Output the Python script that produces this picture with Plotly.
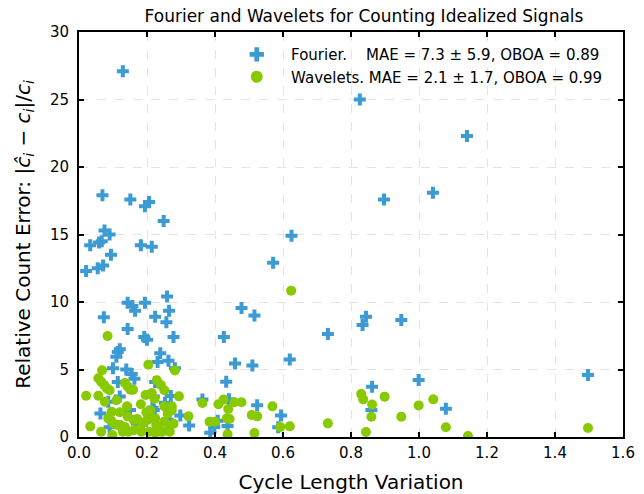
import plotly.graph_objects as go

# Cycle length variation (x) and relative count error (y) per signal
fourier_x = [0.129, 0.826, 1.141, 1.041, 0.897, 0.069, 0.151, 0.194, 0.206, 0.249,
             0.075, 0.090, 0.033, 0.059, 0.067, 0.182, 0.214, 0.094, 0.021, 0.055,
             0.071, 0.625, 0.571, 0.143, 0.157, 0.165, 0.194, 0.259, 0.073, 0.224,
             0.265, 0.257, 0.478, 0.516, 0.143, 0.192, 0.200, 0.278, 0.426, 0.120,
             0.114, 0.110, 0.239, 0.620, 0.231, 0.263, 0.459, 0.510, 0.100, 0.139,
             0.282, 0.155, 0.163, 0.114, 0.224, 0.433, 0.220, 0.270, 0.253, 0.441,
             0.524, 0.220, 0.063, 0.298, 0.594, 0.196, 0.324, 0.408, 0.437, 0.386,
             0.090, 0.586, 0.834, 0.844, 0.948, 0.732, 0.999, 0.862, 1.079, 1.497,
             0.860, 0.363, 0.398, 0.216, 0.212, 0.086, 0.198, 0.150, 0.170, 0.240,
             0.120, 0.260]
fourier_y = [27.1, 25.0, 22.3, 18.1, 17.6, 17.9, 17.6, 17.1, 17.4, 16.0,
             15.3, 15.0, 14.2, 14.4, 14.5, 14.2, 14.1, 13.5, 12.3, 12.5,
             12.7, 14.9, 12.9, 9.95, 9.7, 9.36, 9.95, 10.4, 8.87, 8.9,
             9.36, 8.5, 9.55, 9.0, 8.0, 7.4, 7.2, 7.4, 7.4, 6.5,
             6.3, 5.95, 6.2, 5.75, 5.55, 5.65, 5.45, 5.3, 5.1, 5.0,
             5.1, 4.67, 4.32, 4.07, 4.07, 4.1, 3.0, 3.04, 2.54, 2.79,
             2.35, 2.0, 1.75, 1.6, 1.6, 1.2, 0.86, 1.2, 0.81, 0.32,
             0.72, 0.72, 8.3, 8.9, 8.67, 7.63, 4.22, 3.73, 2.1, 4.6,
             2.0, 2.77, 0.74, 2.17, 1.87, 2.62, 1.23, 2.0, 1.0, 0.5,
             3.0, 1.3]

wavelet_x = [0.084, 0.624, 0.204, 0.068, 0.282, 0.057, 0.065, 0.074, 0.082, 0.090,
             0.021, 0.057, 0.076, 0.110, 0.135, 0.143, 0.151, 0.159, 0.229, 0.241,
             0.251, 0.196, 0.214, 0.222, 0.141, 0.182, 0.294, 0.251, 0.273, 0.198,
             0.210, 0.096, 0.120, 0.261, 0.273, 0.322, 0.086, 0.094, 0.102, 0.114,
             0.143, 0.161, 0.171, 0.202, 0.224, 0.251, 0.265, 0.278, 0.033, 0.065,
             0.098, 0.129, 0.145, 0.161, 0.184, 0.206, 0.224, 0.245, 0.267, 0.121,
             0.135, 0.180, 0.227, 0.235, 0.190, 0.363, 0.410, 0.425, 0.439, 0.457,
             0.478, 0.435, 0.443, 0.384, 0.400, 0.508, 0.524, 0.569, 0.592, 0.620,
             0.437, 0.516, 0.830, 0.836, 0.899, 0.862, 0.860, 0.948, 0.999, 1.042,
             0.732, 0.844, 1.079, 1.144, 1.497]
wavelet_y = [7.48, 10.84, 5.36, 4.95, 4.93, 4.35, 4.1, 3.85, 3.6, 3.46,
             3.06, 3.06, 2.62, 2.72, 4.0, 3.75, 3.5, 3.5, 4.2, 3.85,
             3.46, 3.11, 3.26, 2.81, 2.27, 2.42, 3.01, 2.27, 2.27, 1.83,
             1.98, 1.87, 1.83, 1.73, 1.98, 1.53, 1.38, 1.23, 0.99, 0.89,
             1.53, 1.28, 1.33, 1.28, 1.38, 1.13, 0.74, 0.99, 0.79, 0.39,
             0.15, 0.39, 0.39, 0.5, 0.39, 0.39, 0.3, 0.39, 0.39, 0.89,
             0.74, 0.64, 0.89, 0.59, 1.08, 2.52, 2.42, 2.77, 2.07, 2.57,
             2.57, 1.38, 1.33, 1.13, 1.13, 1.63, 1.53, 2.27, 0.74, 0.79,
             0.2, 0.3, 3.19, 2.79, 2.99, 2.4, 1.5, 1.5, 2.34, 2.79,
             1.01, 0.37, 0.72, 0.07, 0.67]

NB = "\u00a0"
fourier_label = NB * 3 + "Fourier." + NB * 4 + "MAE = 7.3 ± 5.9, OBOA = 0.89"
wavelet_label = NB * 3 + "Wavelets." + NB + "MAE = 2.1 ± 1.7, OBOA = 0.99"

x_ticks = [0.0, 0.2, 0.4, 0.6, 0.8, 1.0, 1.2, 1.4, 1.6]
y_ticks = [0, 5, 10, 15, 20, 25, 30]

BLUE = "rgb(60,154,212)"
GREEN = "rgb(136,201,0)"
FONT = "DejaVu Sans"

fig = go.Figure()
fig.add_trace(go.Scatter(
    x=fourier_x, y=fourier_y, mode="markers", name=fourier_label,
    marker=dict(symbol="cross", size=10, color=BLUE, line=dict(width=0)),
))
fig.add_trace(go.Scatter(
    x=wavelet_x, y=wavelet_y, mode="markers", name=wavelet_label,
    marker=dict(symbol="circle", size=10, color=GREEN, line=dict(width=0)),
))

axis_common = dict(
    showline=True, linewidth=2, linecolor="black", mirror="ticks",
    ticks="inside", ticklen=5, tickwidth=2, tickcolor="black",
    showgrid=True, gridcolor="#e3e3e3", griddash="dash", gridwidth=1,
    zeroline=False, automargin=False,
    tickfont=dict(family=FONT, size=15, color="black"),
)

fig.update_xaxes(
    range=[0, 1.6], tickvals=x_ticks, ticktext=[f"{v:.1f}" for v in x_ticks],
    ticklabelstandoff=1,
    title=dict(text="Cycle Length Variation", font=dict(family=FONT, size=20, color="black"),
               standoff=22),
    **axis_common,
)
fig.update_yaxes(
    range=[0, 30], tickvals=y_ticks, ticktext=[str(v) for v in y_ticks],
    ticklabelstandoff=5,
    title=dict(
        text="Relative Count Error: |<i>ĉ</i><sub><i>i</i></sub> − <i>c</i><sub><i>i</i></sub>|/<i>c</i><sub><i>i</i></sub>",
        font=dict(family=FONT, size=20, color="black"), standoff=14),
    **axis_common,
)

fig.update_layout(
    width=644, height=494,
    margin=dict(l=79, r=21, t=32, b=57, autoexpand=False),
    paper_bgcolor="white", plot_bgcolor="white",
    font=dict(family=FONT, color="black"),
    title=dict(text="Fourier and Wavelets for Counting Idealized Signals",
               font=dict(family=FONT, size=17, color="black"),
               x=364 / 644, xanchor="center", y=1 - 16 / 494, yanchor="middle"),
    legend=dict(x=0.29, y=0.985, xanchor="left", yanchor="top",
                bgcolor="rgba(255,255,255,0)", borderwidth=0,
                font=dict(family=FONT, size=15, color="black"),
                itemsizing="constant", tracegroupgap=0),
    showlegend=True,
)

fig.write_html("out.html")
